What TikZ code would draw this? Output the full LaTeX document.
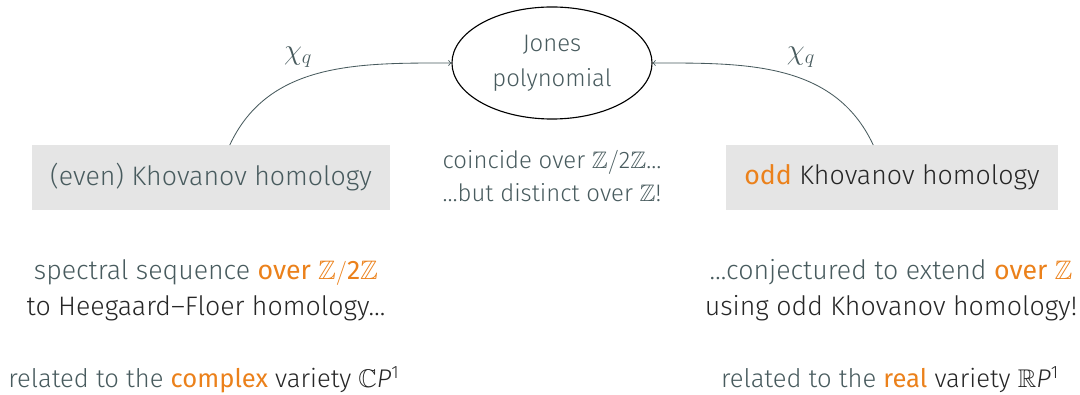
\documentclass[tikz,border=0pt]{standalone}
\usepackage{amsmath,amssymb}
\usepackage{fontspec}
\setmainfont{Fira Sans}[UprightFont=* Light, BoldFont=*]
\usetikzlibrary{shapes, arrows}
\definecolor{mteal}{HTML}{485B5E}
\definecolor{mdark}{HTML}{262626}
\definecolor{morange}{HTML}{EB811B}
\definecolor{mgray}{HTML}{E5E5E5}
\newcommand{\alertw}[1]{{\bfseries\color{morange}#1}}
\newcommand{\twoZ}{$\mathbb{Z}/\text{2}\mathbb{Z}$}
\tikzstyle{every picture}+=[x=0.025cm, y=0.025cm]
\tikzstyle{homol}=[fill=mgray, minimum height=1.61cm, inner sep=0pt]
\tikzstyle{txt}=[text=mteal, align=center, font=\fontsize{19}{25.5}\selectfont]
\tikzstyle{chiq}=[->, mteal, line width=0.6pt]

\begin{document}
\begin{tikzpicture}
\useasboundingbox (0,0) rectangle (1080,395);
\node[ellipse, draw, line width=0.8pt, minimum width=5cm, minimum height=2.8cm, txt, font=\fontsize{17}{25}\selectfont] (jones) at (552,332) {Jones\\polynomial};
\node[homol, minimum width=8.95cm, txt] (even) at (211,217.5) {(even) Khovanov homology};
\node[homol, minimum width=8.3cm, txt] (odd) at (892,217.5) {\alertw{odd} \textcolor{mdark}{Khovanov homology}};
\draw[chiq] (even.60) to[out=65, in=180] node[pos=0.4, above=5pt, text=mteal, font=\fontsize{21}{22}\selectfont] {$\chi_q$} (jones.west);
\draw[chiq] (odd.120) to[out=115, in=0] node[pos=0.42, above=4pt, text=mteal, font=\fontsize{21}{22}\selectfont] {$\chi_q$} (jones.east);
\node[txt, font=\fontsize{17}{23.5}\selectfont] (coincide) at (552,218.5) {coincide over \twoZ\dots\\\dots but distinct over $\mathbb{Z}$!};
% left column
\node[txt] (spectral) at (206,105) {spectral sequence \alertw{over \twoZ}\\\textcolor{mdark}{to Heegaard--Floer homology\dots}};
\node[txt, font=\fontsize{18.2}{24}\selectfont] (complex) at (204,15) {related to the \alertw{complex} \textcolor{mdark}{variety $\mathbb{C}$\textit{P}\textsuperscript{1}}};
% right column
\node[txt] (conj) at (891,105) {\dots conjectured to extend \alertw{over $\mathbb{Z}$}\\\textcolor{mdark}{using odd Khovanov homology!}};
\node[txt, font=\fontsize{18.2}{24}\selectfont] (real) at (890,15) {related to the \alertw{real} \textcolor{mdark}{variety $\mathbb{R}$\textit{P}\textsuperscript{1}}};
\end{tikzpicture}
\end{document}
